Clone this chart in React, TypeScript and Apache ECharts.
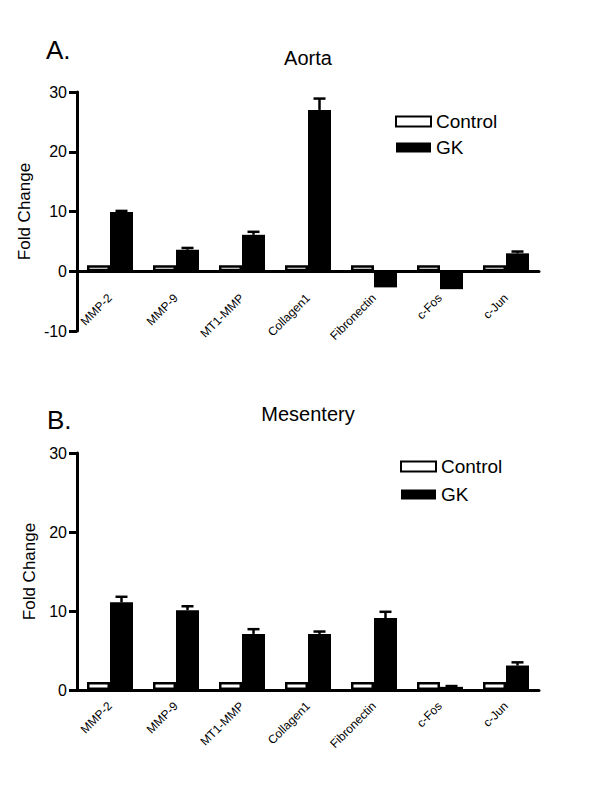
import React, { useEffect, useRef } from "react";
import * as echarts from "echarts";

const categories = ["MMP-2", "MMP-9", "MT1-MMP", "Collagen1", "Fibronectin", "c-Fos", "c-Jun"];
const seriesNames = ["Control", "GK"];

const aortaControl = [1, 1, 1, 1, 1, 1, 1];
const aortaGK = [9.9, 3.6, 6.1, 27.0, -2.7, -3.0, 3.0];
const aortaGKSem = [0.2, 0.3, 0.5, 1.9, 0, 0, 0.3];

const mesControl = [1, 1, 1, 1, 1, 1, 1];
const mesGK = [11.1, 10.1, 7.1, 7.1, 9.1, 0.4, 3.1];
const mesGKSem = [0.7, 0.5, 0.6, 0.3, 0.8, 0.1, 0.4];

const aortaRange = { min: -10, max: 30, interval: 10 };
const mesRange = { min: 0, max: 30, interval: 10 };

const panelTitles = ["Aorta", "Mesentery"];
const panelLetters = ["A.", "B."];
const yAxisName = "Fold Change";

const FONT = "Liberation Sans, Arial, Helvetica, sans-serif";
const BAR_W = 23;

function errRender(params: any, api: any) {
  const idx = api.value(0);
  const mean = api.value(1);
  const sem = api.value(2);
  if (!sem) return null;
  const top = mean >= 0 ? mean + sem : mean - sem;
  const p0 = api.coord([idx, mean]);
  const p1 = api.coord([idx, top]);
  const x = p0[0] + BAR_W / 2;
  const style = { stroke: "#000", lineWidth: 2.5 };
  return {
    type: "group",
    children: [
      { type: "line", shape: { x1: x, y1: p0[1], x2: x, y2: p1[1] }, style },
      { type: "line", shape: { x1: x - 6, y1: p1[1], x2: x + 6, y2: p1[1] }, style },
    ],
  };
}

export default function App() {
  const ref = useRef<HTMLDivElement>(null);
  useEffect(() => {
    if (!ref.current) return;
    const chart = echarts.init(ref.current, undefined, { renderer: "svg" });
    const grids = [
      { left: 77, right: 61, top: 92, height: 239 },
      { left: 77, right: 61, top: 453, height: 237 },
    ];
    const ranges = [aortaRange, mesRange];
    const controls = [aortaControl, mesControl];
    const gks = [aortaGK, mesGK];
    const sems = [aortaGKSem, mesGKSem];
    const labelMargins = [-35, 14];

    const xAxis = grids.map((g, i) => ({
      type: "category",
      gridIndex: i,
      data: categories,
      axisLine: { onZero: true, lineStyle: { color: "#000", width: 3 } },
      axisTick: { show: false },
      axisLabel: {
        interval: 0,
        rotate: 45,
        margin: labelMargins[i],
        fontSize: 12,
        color: "#000",
        fontFamily: FONT,
      },
      splitLine: { show: false },
    }));
    const yAxis = grids.map((g, i) => ({
      type: "value",
      gridIndex: i,
      min: ranges[i].min,
      max: ranges[i].max,
      interval: ranges[i].interval,
      name: yAxisName,
      nameLocation: "middle",
      nameGap: 36,
      nameTextStyle: { fontSize: 17, color: "#000", fontFamily: FONT },
      axisLine: { show: true, lineStyle: { color: "#000", width: 3 } },
      axisTick: { show: true, length: 8, lineStyle: { color: "#000", width: 3 } },
      axisLabel: { fontSize: 16, color: "#000", fontFamily: FONT, margin: 10 },
      splitLine: { show: false },
    }));

    const series: any[] = [];
    grids.forEach((g, i) => {
      series.push({
        name: seriesNames[0],
        type: "bar",
        xAxisIndex: i,
        yAxisIndex: i,
        data: controls[i],
        barWidth: BAR_W,
        barGap: "0%",
        itemStyle: { color: "#fff", borderColor: "#000", borderWidth: 2.5 },
      });
      series.push({
        name: seriesNames[1],
        type: "bar",
        xAxisIndex: i,
        yAxisIndex: i,
        data: gks[i],
        barWidth: BAR_W,
        barGap: "0%",
        itemStyle: { color: "#000" },
      });
      series.push({
        name: "err" + i,
        type: "custom",
        xAxisIndex: i,
        yAxisIndex: i,
        renderItem: errRender,
        data: gks[i].map((v, k) => [k, v, sems[i][k]]),
        z: 3,
      });
    });

    const legendBase = {
      orient: "vertical",
      data: seriesNames,
      itemWidth: 35,
      itemHeight: 10,
      textStyle: { fontSize: 19, color: "#000", fontFamily: FONT },
      icon: "rect",
      selectedMode: false,
    };

    chart.setOption({
      animation: false,
      backgroundColor: "#fff",
      grid: grids,
      xAxis,
      yAxis,
      series,
      legend: [
        { ...legendBase, left: 390, top: 107, itemGap: 7 },
        { ...legendBase, left: 395, top: 452, itemGap: 9 },
      ],
      graphic: [
        { type: "text", x: 308, y: 58, style: { text: panelTitles[0], font: `20px ${FONT}`, fill: "#000", textAlign: "center", textVerticalAlign: "middle" } },
        { type: "text", x: 308, y: 414, style: { text: panelTitles[1], font: `20px ${FONT}`, fill: "#000", textAlign: "center", textVerticalAlign: "middle" } },
        { type: "text", x: 46, y: 50, style: { text: panelLetters[0], font: `26px ${FONT}`, fill: "#000", textVerticalAlign: "middle" } },
        { type: "text", x: 47, y: 420, style: { text: panelLetters[1], font: `26px ${FONT}`, fill: "#000", textVerticalAlign: "middle" } },
      ],
    });
    return () => chart.dispose();
  }, []);
  return (
    <div
      ref={ref}
      style={{ position: "fixed", left: 0, top: 0, width: 600, height: 801, background: "#fff" }}
    />
  );
}
